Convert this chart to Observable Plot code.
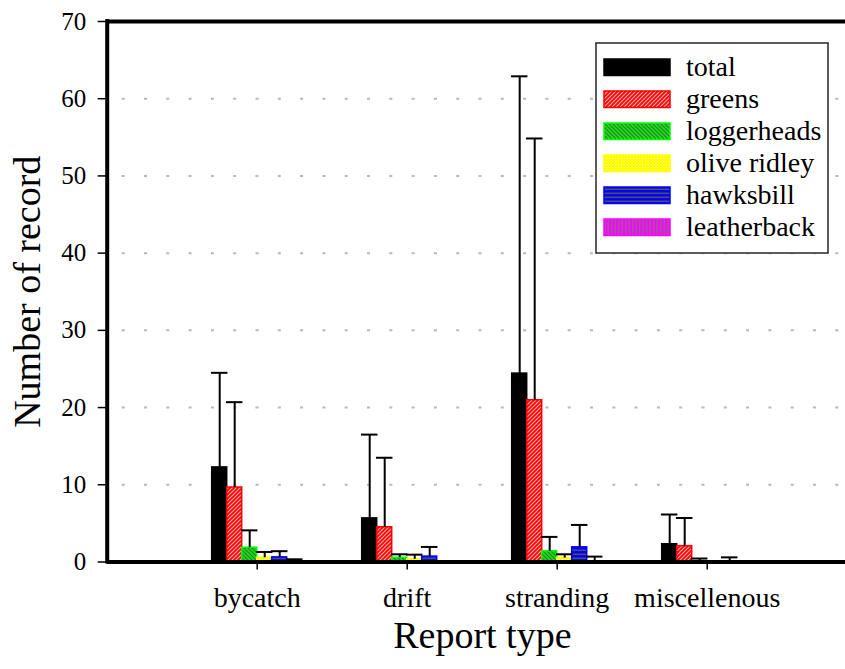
<!DOCTYPE html>
<html>
<head>
<meta charset="utf-8">
<script src="https://cdn.jsdelivr.net/npm/d3@7"></script>
<script src="https://cdn.jsdelivr.net/npm/@observablehq/plot@0.6"></script>
<style>
  html, body { margin: 0; padding: 0; background: white; overflow: hidden; }
  #chart svg { display: block; font-family: "Liberation Serif", "Times New Roman", serif; }
  #chart svg text { font-family: "Liberation Serif", "Times New Roman", serif; }
  #chart g[aria-label^="x-axis"] text { font-size: 28px; }
  #chart g[aria-label^="y-axis"] text { font-size: 25px; }
  #chart g[aria-label^="x-axis"] line, #chart g[aria-label^="x-axis"] path,
  #chart g[aria-label^="y-axis"] line, #chart g[aria-label^="y-axis"] path { stroke-width: 1.5px; }
</style>
</head>
<body>
<div id="chart"></div>
<script>
// ---- data ----
const categories = ["bycatch", "drift", "stranding", "miscellenous"];
const species = ["total", "greens", "loggerheads", "olive ridley", "hawksbill", "leatherback"];
const speciesColors = ["#000000", "#ff0000", "#00ff00", "#ffff00", "#0000ff", "#ff00ff"];
const yTicks = [0, 10, 20, 30, 40, 50, 60, 70];
const yGrid = [10, 20, 30, 40, 50, 60];

// mean values per report type (bycatch, drift, stranding, miscellenous)
const totalMean       = [12.25, 5.65, 24.4, 2.3];
const greensMean      = [9.65, 4.5, 20.95, 2.05];
const loggerheadsMean = [1.85, 0.55, 1.4, 0.1];
const oliveMean       = [0.55, 0.35, 0.5, 0];
const hawksbillMean   = [0.6, 0.7, 1.9, 0.1];
const leatherbackMean = [0.1, 0, 0.1, 0];

// upper end of error bars (mean + sd); null = no error bar
const totalUpper       = [24.5, 16.5, 62.9, 6.15];
const greensUpper      = [20.7, 13.5, 54.85, 5.7];
const loggerheadsUpper = [4.1, 1.0, 3.25, 0.45];
const oliveUpper       = [1.3, 0.95, 1.0, null];
const hawksbillUpper   = [1.4, 1.95, 4.8, 0.6];
const leatherbackUpper = [0.35, null, 0.7, null];

const means = [totalMean, greensMean, loggerheadsMean, oliveMean, hawksbillMean, leatherbackMean];
const uppers = [totalUpper, greensUpper, loggerheadsUpper, oliveUpper, hawksbillUpper, leatherbackUpper];

// ---- build table ----
const barW = 0.1;
const rows = [];
categories.forEach((c, i) => {
  species.forEach((s, k) => {
    const x1 = (i + 1) + (k - species.length / 2) * barW;
    rows.push({category: c, species: s, k, x1, x2: x1 + barW, xc: x1 + barW / 2,
               mean: means[k][i], upper: uppers[k][i]});
  });
});
const barRows = rows.filter(d => d.mean > 0);
const errRows = rows.filter(d => d.upper != null);
const patId = k => `url(#pat${k})`;
const serif = "Liberation Serif, Times New Roman, serif";

const plot = Plot.plot({
  width: 845,
  height: 669,
  marginTop: 21,
  marginBottom: 107.5,
  marginLeft: 106.7,
  marginRight: 0,
  style: {fontFamily: serif, fontSize: "25px", background: "white", color: "black"},
  x: {domain: [0, categories.length + 1], range: [106.7, 856.7], ticks: categories.map((c, i) => i + 1),
      tickFormat: v => categories[v - 1], tickSize: 8, tickPadding: 17, label: null},
  y: {domain: [0, 70], ticks: yTicks, tickSize: 9, tickPadding: 12, label: null},
  color: {type: "identity"},
  marks: [
    Plot.ruleY(yGrid, {stroke: "#b8b8b8", strokeWidth: 2, strokeDasharray: "3,19.3", strokeDashoffset: 7.3}),
    Plot.rect(barRows, {x1: "x1", x2: "x2", y1: 0, y2: "mean",
      fill: d => patId(d.k), stroke: d => speciesColors[d.k], strokeWidth: 1.5}),
    Plot.ruleX(errRows, {x: "xc", y1: "mean", y2: "upper", stroke: "black", strokeWidth: 2}),
    Plot.ruleY(errRows, {y: "upper", x1: d => d.xc - 0.055, x2: d => d.xc + 0.055, stroke: "black", strokeWidth: 2}),
    Plot.ruleY([0, 70], {stroke: "black", strokeWidth: 4}),
    Plot.ruleX([0], {stroke: "black", strokeWidth: 4, strokeLinecap: "square"}),
    Plot.text(["Report type"], {frameAnchor: "bottom", dx: 6, dy: 86, fontSize: 38, fill: "black"}),
    Plot.text(["Number of record"], {frameAnchor: "left", textAnchor: "middle", rotate: -90, dx: -79, fontSize: 38, fill: "black"})
  ]
});

document.getElementById("chart").appendChild(plot);

// ---- patterns ----
const svg = d3.select(plot);
const defs = svg.insert("defs", ":first-child");
function pattern(id, w, h, bg, draw) {
  const p = defs.append("pattern").attr("id", id).attr("patternUnits", "userSpaceOnUse")
    .attr("width", w).attr("height", h);
  p.append("rect").attr("width", w).attr("height", h).attr("fill", bg);
  draw(p);
}
pattern("pat0", 4, 4, "#000000", p => {});
pattern("pat1", 4, 4, "#ff0000", p => p.append("path")
  .attr("d", "M-1,1 L1,-1 M0,4 L4,0 M3,5 L5,3").attr("stroke", "#ffb0b0").attr("stroke-width", 1.1));
pattern("pat2", 4, 4, "#00ee00", p => p.append("path")
  .attr("d", "M-1,3 L1,5 M0,0 L4,4 M3,-1 L5,1").attr("stroke", "#4a6a4a").attr("stroke-width", 1.2));
pattern("pat3", 3, 3, "#ffff00", p => p.append("rect")
  .attr("x", 1).attr("y", 1).attr("width", 1).attr("height", 1).attr("fill", "#ffffb0"));
pattern("pat4", 4, 4, "#0000ff", p => p.append("rect")
  .attr("x", 0).attr("y", 1.5).attr("width", 4).attr("height", 1.6).attr("fill", "#505060"));
pattern("pat5", 3.5, 3.5, "#ff00ff", p => p.append("rect")
  .attr("x", 1).attr("y", 0).attr("width", 1.4).attr("height", 3.5).attr("fill", "#8a6a8a"));

// ---- legend (inside plot, top right) ----
const lg = svg.append("g").attr("transform", "translate(596,43)");
lg.append("rect").attr("width", 232).attr("height", 210)
  .attr("fill", "white").attr("stroke", "#333").attr("stroke-width", 1.6);
species.forEach((s, k) => {
  const yTop = 16 + 32 * k;
  lg.append("rect").attr("x", 8).attr("y", yTop).attr("width", 66).attr("height", 16.5)
    .attr("fill", patId(k)).attr("stroke", speciesColors[k]).attr("stroke-width", 1.5);
  lg.append("text").attr("x", 90).attr("y", yTop + 16.5)
    .attr("text-anchor", "start")
    .attr("font-family", serif).attr("font-size", 28)
    .attr("fill", "black").text(s);
});
</script>
</body>
</html>
